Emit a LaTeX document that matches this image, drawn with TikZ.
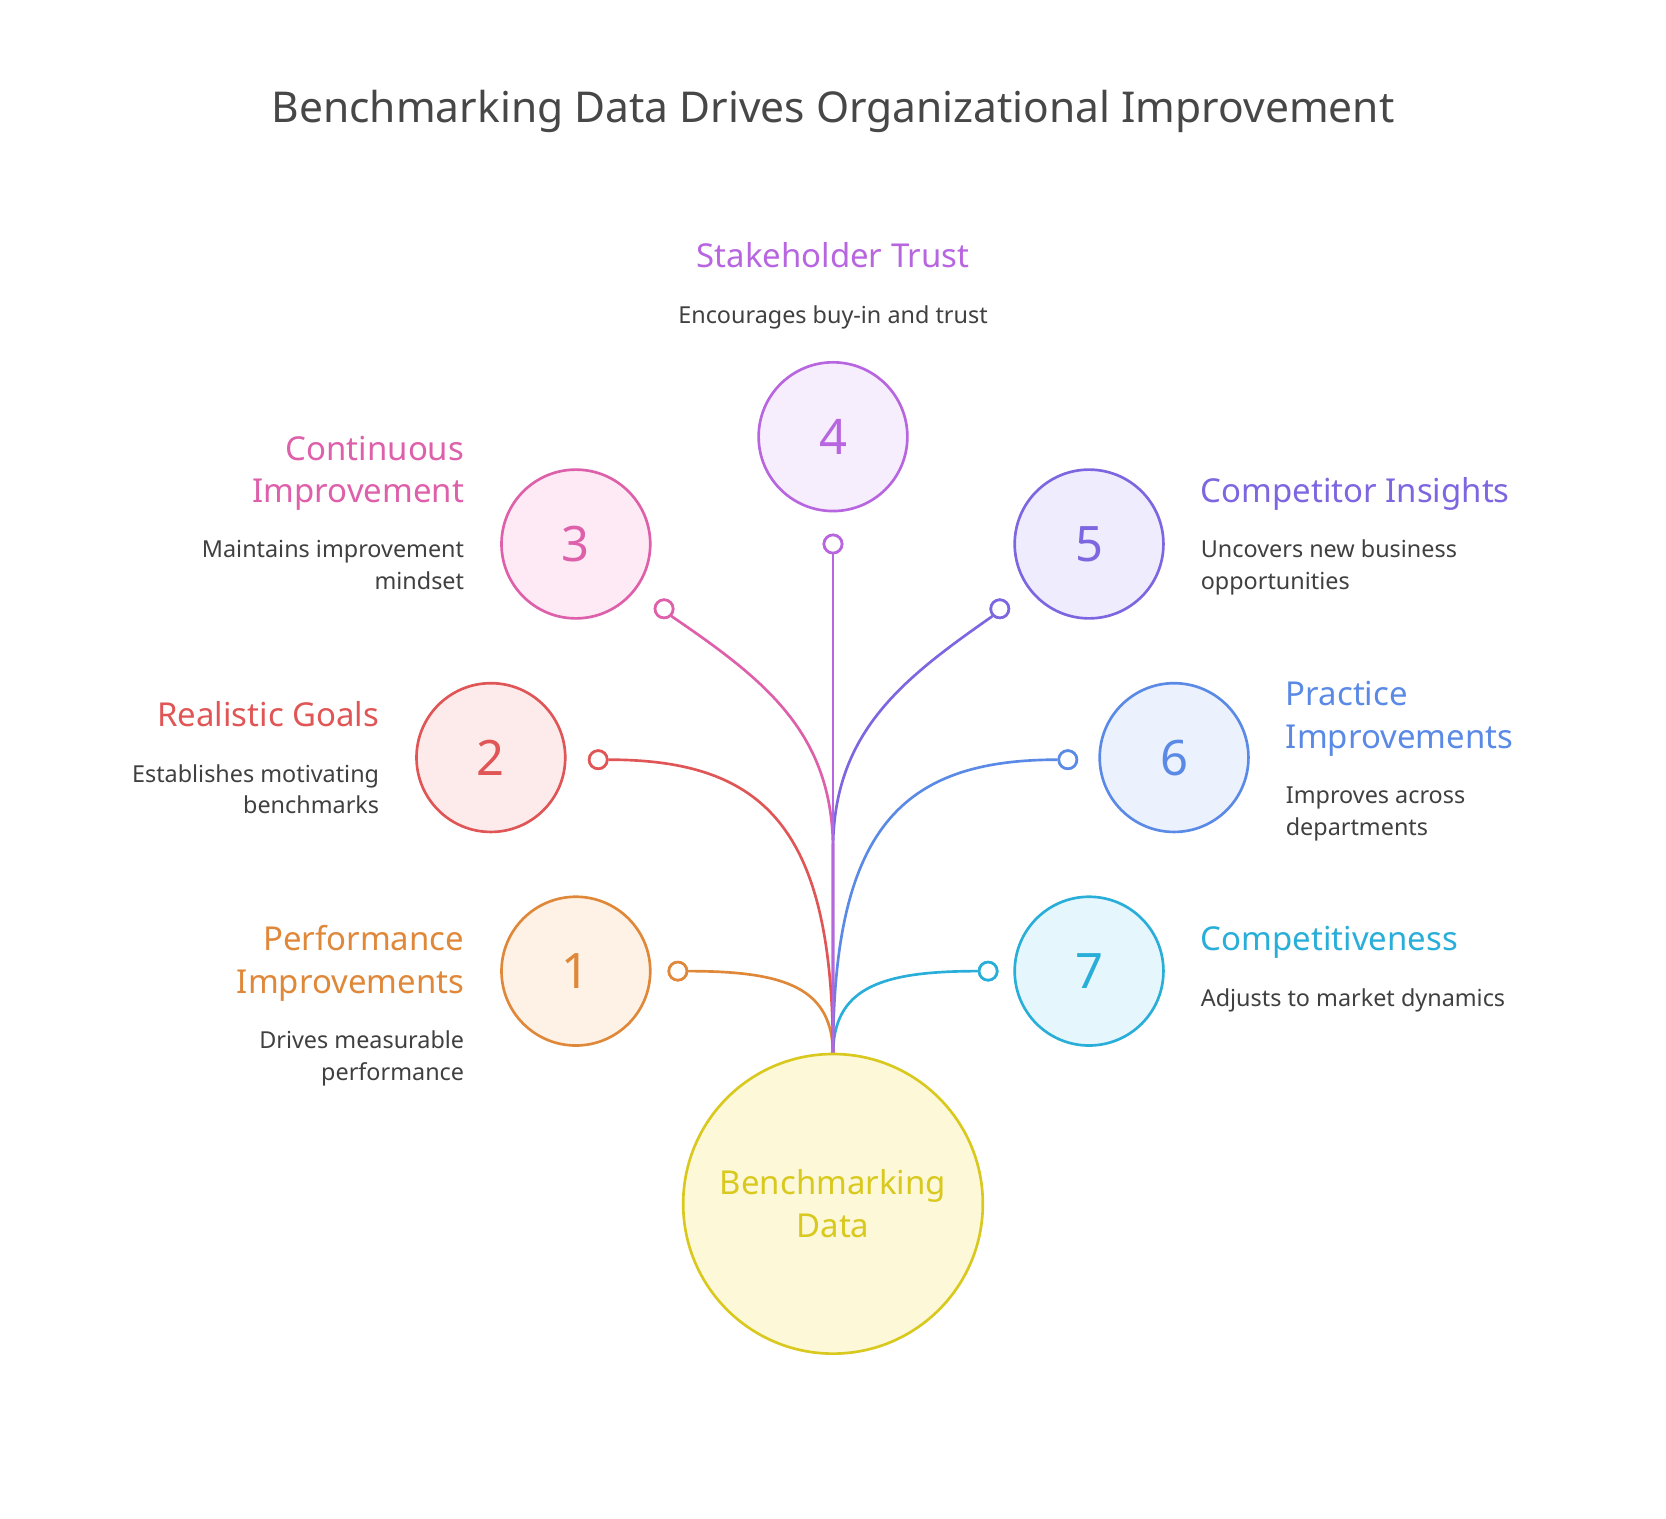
\documentclass[tikz,border=0pt]{standalone}
\usepackage{fontspec}
\setmainfont{Noto Sans}
\begin{document}
\begin{tikzpicture}[x=1pt,y=-1pt,
  hd/.style={inner sep=0pt,font=\fontsize{31}{36}\selectfont},
  ds/.style={inner sep=0pt,text=black!75,font=\fontsize{22}{26}\selectfont},
  num/.style={circle,minimum size=140pt,line width=2.5pt,inner sep=0pt,font=\fontsize{46}{50}\selectfont},
  dot/.style={circle,minimum size=17pt,inner sep=0pt,fill=white,line width=2.5pt},
  ln/.style={line width=2.5pt}]
\definecolor{c1}{HTML}{E0883A}\definecolor{f1}{HTML}{FEF2E6}
\definecolor{c2}{HTML}{E05555}\definecolor{f2}{HTML}{FDEBEB}
\definecolor{c3}{HTML}{DE5FAA}\definecolor{f3}{HTML}{FDEAF4}
\definecolor{c4}{HTML}{B866E0}\definecolor{f4}{HTML}{F6EDFD}
\definecolor{c5}{HTML}{7D66E0}\definecolor{f5}{HTML}{EFEDFD}
\definecolor{c6}{HTML}{5A8AE6}\definecolor{f6}{HTML}{EBF1FD}
\definecolor{c7}{HTML}{28AED8}\definecolor{f7}{HTML}{E5F7FD}
\definecolor{cy}{HTML}{D9C81E}\definecolor{fy}{HTML}{FDF9D8}
\useasboundingbox[fill=white] (0,0) rectangle (1568,1429);
\node[inner sep=0pt,text=black!72,font=\bfseries\fontsize{40}{44}\selectfont] (title) at (784,105) {Benchmarking Data Drives Organizational Improvement};
% connectors
\coordinate (top) at (784,993);
\node[dot,draw=c1] (d1) at (638,914) {};
\node[dot,draw=c2] (d2) at (563,715) {};
\node[dot,draw=c3] (d3) at (625,573) {};
\node[dot,draw=c4] (d4) at (784,512) {};
\node[dot,draw=c5] (d5) at (941,573) {};
\node[dot,draw=c6] (d6) at (1005,715) {};
\node[dot,draw=c7] (d7) at (930,914) {};
\draw[ln,c1] (top) .. controls (784,930) and (740,914) .. (d1.east);
\draw[ln,c7] (top) .. controls (784,930) and (828,914) .. (d7.west);
\draw[ln,c2] (top) .. controls (784,780) and (720,715) .. (d2.east);
\draw[ln,c6] (top) .. controls (784,780) and (848,715) .. (d6.west);
\draw[ln,c3] (top) -- (784,800) .. controls (784,690) and (720,640) .. (d3.south east);
\draw[ln,c5] (top) -- (784,800) .. controls (784,690) and (848,640) .. (d5.south west);
\draw[ln,c4] (top) -- (d4.south);
\node[dot,draw=c1] at (d1) {};\node[dot,draw=c2] at (d2) {};\node[dot,draw=c3] at (d3) {};
\node[dot,draw=c4] at (d4) {};\node[dot,draw=c5] at (d5) {};\node[dot,draw=c6] at (d6) {};\node[dot,draw=c7] at (d7) {};
% circles
\node[circle,minimum size=282pt,line width=2.5pt,draw=cy,fill=fy,text=cy,align=center,font=\fontsize{31}{40}\selectfont] (bd) at (784,1133) {Benchmarking\\Data};
\node[num,draw=c1,fill=f1,text=c1] (n1) at (542,914) {1};
\node[num,draw=c2,fill=f2,text=c2] (n2) at (462,713) {2};
\node[num,draw=c3,fill=f3,text=c3] (n3) at (542,512) {3};
\node[num,draw=c4,fill=f4,text=c4] (n4) at (784,411) {4};
\node[num,draw=c5,fill=f5,text=c5] (n5) at (1025,512) {5};
\node[num,draw=c6,fill=f6,text=c6] (n6) at (1105,713) {6};
\node[num,draw=c7,fill=f7,text=c7] (n7) at (1025,914) {7};
% labels left
\node[hd,text=c1,anchor=base east] (l1a) at (437,895) {Performance};
\node[hd,text=c1,anchor=base east] (l1b) at (437,935) {Improvements};
\node[ds,anchor=base east] (t1a) at (437,987) {Drives measurable};
\node[ds,anchor=base east] (t1b) at (437,1017) {performance};
\node[hd,text=c2,anchor=base east] (l2) at (357,684) {Realistic Goals};
\node[ds,anchor=base east] (t2a) at (357,736) {Establishes motivating};
\node[ds,anchor=base east] (t2b) at (357,766) {benchmarks};
\node[hd,text=c3,anchor=base east] (l3a) at (437,433) {Continuous};
\node[hd,text=c3,anchor=base east] (l3b) at (437,473) {Improvement};
\node[ds,anchor=base east] (t3a) at (437,525) {Maintains improvement};
\node[ds,anchor=base east] (t3b) at (437,555) {mindset};
\node[hd,text=c4,anchor=base] (l4) at (784,252) {Stakeholder Trust};
\node[ds,anchor=base] (t4) at (784,304) {Encourages buy-in and trust};
\node[hd,text=c5,anchor=base west] (l5) at (1130,473) {Competitor Insights};
\node[ds,anchor=base west] (t5a) at (1130,525) {Uncovers new business};
\node[ds,anchor=base west] (t5b) at (1130,555) {opportunities};
\node[hd,text=c6,anchor=base west] (l6a) at (1210,664) {Practice};
\node[hd,text=c6,anchor=base west] (l6b) at (1210,704) {Improvements};
\node[ds,anchor=base west] (t6a) at (1210,756) {Improves across};
\node[ds,anchor=base west] (t6b) at (1210,786) {departments};
\node[hd,text=c7,anchor=base west] (l7) at (1130,895) {Competitiveness};
\node[ds,anchor=base west] (t7) at (1130,947) {Adjusts to market dynamics};
\end{tikzpicture}
\end{document}
